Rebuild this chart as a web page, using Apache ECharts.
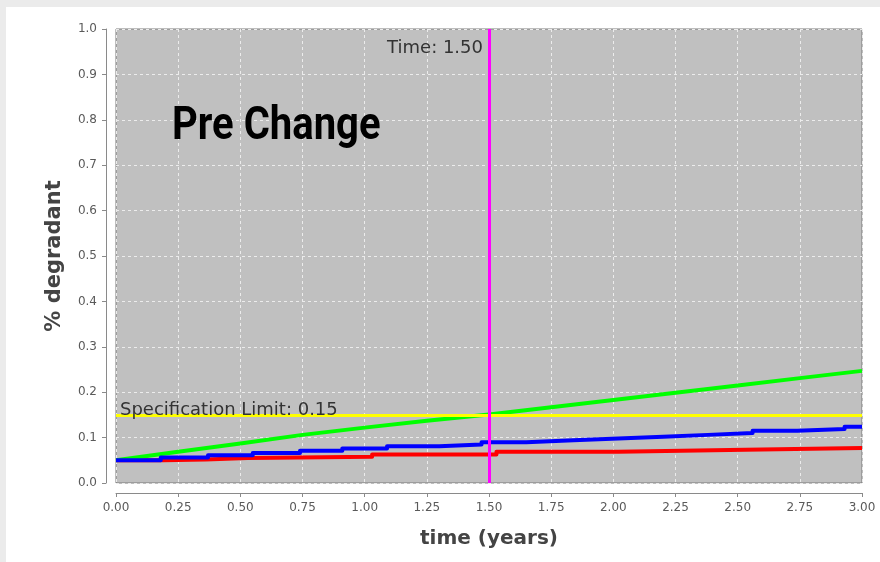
<!DOCTYPE html>
<html>
<head>
<meta charset="utf-8">
<title>Pre Change – % degradant over time</title>
<script src="https://cdn.jsdelivr.net/npm/echarts@6/dist/echarts.min.js"></script>
<style>
  html, body { margin: 0; padding: 0; background: #ffffff; }
  #chart { width: 880px; height: 562px; }
</style>
</head>
<body>
<div id="chart"></div>
<script>
// ---- data ----
const chartTitle = 'Pre Change';
const specLimit = 0.15;     // horizontal specification limit
const timeCursor = 1.50;    // vertical time marker (years)

// upper curve (green)
const greenTimes  = [0, 0.25, 0.5, 0.75, 1.0, 1.25, 1.5, 1.75, 2.0, 2.25, 2.5, 2.75, 3.0];
const greenValues = [0.050, 0.069, 0.087, 0.106, 0.122, 0.137, 0.151, 0.167, 0.183, 0.199, 0.215, 0.231, 0.247];

// middle curve (blue), stepwise: each value holds from its time until the next one
const blueTimes  = [0, 0.18, 0.37, 0.55, 0.74, 0.91, 1.09, 1.30, 1.47, 1.65, 1.84, 2.02, 2.20, 2.38, 2.56, 2.74, 2.93, 3.0];
const blueValues = [0.050, 0.056, 0.061, 0.066, 0.071, 0.076, 0.081, 0.085, 0.090, 0.094, 0.098, 0.102, 0.106, 0.110, 0.115, 0.119, 0.124, 0.124];

// lower curve (red), stepwise
const redTimes  = [0, 0.19, 0.36, 0.53, 1.03, 1.53, 2.02, 2.53, 3.0];
const redValues = [0.050, 0.052, 0.055, 0.058, 0.063, 0.069, 0.073, 0.077, 0.077];

const xMin = 0, xMax = 3, xStep = 0.25;
const yMin = 0, yMax = 1, yStep = 0.1;

const pairs = (ts, vs) => ts.map((t, i) => [t, vs[i]]);
// staircase: hold previous value up to each change time, then jump
const stairs = (ts, vs) => {
  const out = [[ts[0], vs[0]]];
  for (let i = 1; i < ts.length; i++) {
    out.push([ts[i], vs[i - 1]]);
    out.push([ts[i], vs[i]]);
  }
  return out;
};

const chart = echarts.init(document.getElementById('chart'), null, { renderer: 'canvas' });

const axisGray = '#8a8a8a';
const labelGray = '#5a5a5a';
const gridDash = { color: '#ececec', width: 1, type: [3, 3] };

const option = {
  backgroundColor: '#ffffff',
  animation: false,
  grid: {
    left: 116, top: 29, right: 18, bottom: 79,
    show: true, backgroundColor: '#c0c0c0', borderColor: '#7a7a7a', borderWidth: 1
  },
  xAxis: {
    type: 'value', min: xMin, max: xMax, interval: xStep, offset: 10,
    name: 'time (years)', nameLocation: 'middle', nameGap: 36,
    nameTextStyle: { fontFamily: 'DejaVu Sans', fontWeight: 'bold', fontSize: 20, color: '#444444' },
    axisLine: { show: true, onZero: false, lineStyle: { color: axisGray, width: 1 } },
    axisTick: { show: true, length: 4, lineStyle: { color: axisGray } },
    axisLabel: { showMinLabel: true, showMaxLabel: true, margin: 9, fontFamily: 'DejaVu Sans', fontSize: 12, color: labelGray,
                 formatter: v => v.toFixed(2) },
    splitLine: { show: true, lineStyle: gridDash }
  },
  yAxis: {
    type: 'value', min: yMin, max: yMax, interval: yStep, offset: 10,
    name: '% degradant', nameLocation: 'middle', nameGap: 41, nameRotate: 90,
    nameTextStyle: { fontFamily: 'DejaVu Sans', fontWeight: 'bold', fontSize: 21, color: '#444444' },
    axisLine: { show: true, onZero: false, lineStyle: { color: axisGray, width: 1 } },
    axisTick: { show: true, length: 4, lineStyle: { color: axisGray } },
    axisLabel: { showMinLabel: true, showMaxLabel: true, margin: 9, fontFamily: 'DejaVu Sans', fontSize: 12, color: labelGray,
                 formatter: v => v.toFixed(1) },
    splitLine: { show: true, lineStyle: gridDash }
  },
  series: [
    {
      name: 'lower', type: 'line', symbol: 'none', z: 2,
      lineStyle: { color: '#ff0000', width: 4, join: 'round' },
      data: stairs(redTimes, redValues)
    },
    {
      name: 'upper', type: 'line', symbol: 'none', z: 3,
      lineStyle: { color: '#00ff00', width: 4, join: 'round' },
      data: pairs(greenTimes, greenValues)
    },
    {
      name: 'middle', type: 'line', symbol: 'none', z: 4,
      lineStyle: { color: '#0000ff', width: 4, join: 'round' },
      data: stairs(blueTimes, blueValues),
      markLine: {
        silent: true, symbol: 'none', animation: false,
        label: { show: false },
        data: [
          { yAxis: specLimit, lineStyle: { color: '#ffff00', width: 3, type: 'solid' } },
          { xAxis: timeCursor, lineStyle: { color: '#ff00ff', width: 3, type: 'solid' } }
        ]
      }
    }
  ]
};

chart.setOption(option);

// marker captions, placed through the grid's own coordinate system
const specPt = chart.convertToPixel({ gridIndex: 0 }, [xMin, specLimit]);
const timePt = chart.convertToPixel({ gridIndex: 0 }, [timeCursor, yMax]);

chart.setOption({
  graphic: [
    // light frame band along top and left edges
    { type: 'rect', shape: { x: 0, y: 0, width: 880, height: 7 }, style: { fill: '#ebebeb' }, silent: true },
    { type: 'rect', shape: { x: 0, y: 0, width: 6, height: 562 }, style: { fill: '#ebebeb' }, silent: true },
    {
      type: 'text', x: 172, y: 127, scaleX: 0.87, z: 10, silent: true,
      style: { text: chartTitle, font: 'bold 46px Roboto', fill: '#000000', textAlign: 'left', textVerticalAlign: 'middle' }
    },
    {
      type: 'text', x: specPt[0] + 4, y: specPt[1] - 5, z: 10, silent: true,
      style: { text: 'Specification Limit: ' + specLimit.toFixed(2), font: '18px "DejaVu Sans"', fill: '#333333',
               textAlign: 'left', textVerticalAlign: 'middle' }
    },
    {
      type: 'text', x: timePt[0] - 6, y: timePt[1] + 19, z: 10, silent: true,
      style: { text: 'Time: ' + timeCursor.toFixed(2), font: '18px "DejaVu Sans"', fill: '#333333',
               textAlign: 'right', textVerticalAlign: 'middle' }
    }
  ]
});
</script>
</body>
</html>
